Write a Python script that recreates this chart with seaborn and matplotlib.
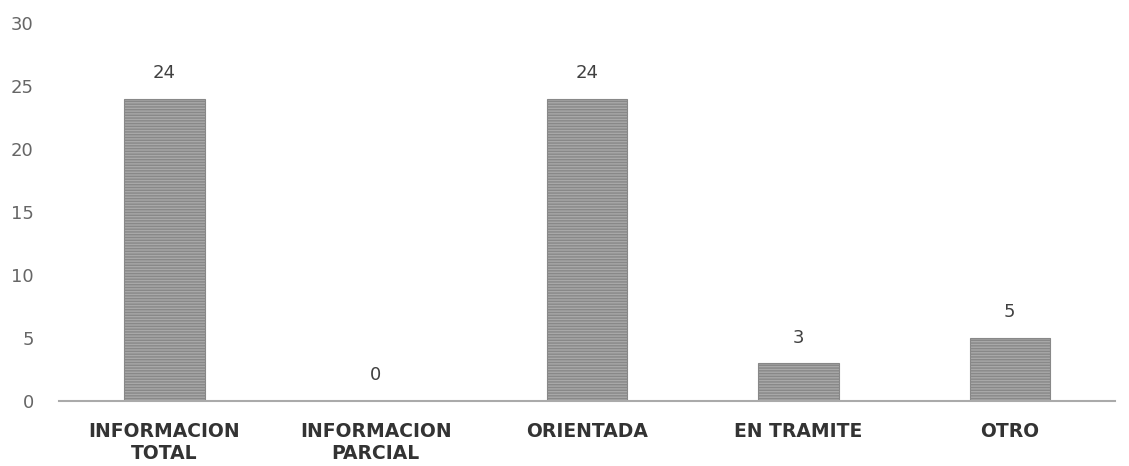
import matplotlib
matplotlib.use("Agg")
import matplotlib.pyplot as plt
import seaborn as sns
import pandas as pd

# Datos del gráfico
categorias = ["INFORMACION\nTOTAL", "INFORMACION\nPARCIAL", "ORIENTADA", "EN TRAMITE", "OTRO"]
valores = [24, 0, 24, 3, 5]
y_ticks = [0, 5, 10, 15, 20, 25, 30]

df = pd.DataFrame({"categoria": categorias, "valor": valores})

sns.set_style("white")
plt.rcParams['font.family'] = ['DejaVu Sans']

fig, ax = plt.subplots(figsize=(11.29, 4.66), dpi=100)
fig.subplots_adjust(left=0.052, right=0.988, top=0.95, bottom=0.14)

sns.barplot(data=df, x="categoria", y="valor", color="#a8a8a8", width=0.38,
            edgecolor="#888888", linewidth=0.8, ax=ax)
for p in ax.patches:
    p.set_hatch("------")

# Etiquetas de valor
for i, v in enumerate(valores):
    ax.text(i, v + 1.3, str(v), ha="center", va="bottom", fontsize=13, color="#404040")

ax.set_ylim(0, 30)
ax.set_xlim(-0.5, len(categorias) - 0.5)
ax.set_yticks(y_ticks)
ax.set_yticklabels([str(t) for t in y_ticks], fontsize=13, color="#666666")
ax.set_xticklabels(categorias, fontsize=13.5, fontweight="bold", color="#333333")
ax.tick_params(axis="both", length=0)
ax.tick_params(axis="y", pad=18)
ax.tick_params(axis="x", pad=15)
ax.set_xlabel("")
ax.set_ylabel("")

sns.despine(ax=ax, left=True, top=True, right=True, bottom=False)
ax.spines["bottom"].set_color("#aaaaaa")
ax.spines["bottom"].set_linestyle((0, (1, 1)))
ax.spines["bottom"].set_linewidth(1.5)

plt.savefig("out.png", dpi=100)
